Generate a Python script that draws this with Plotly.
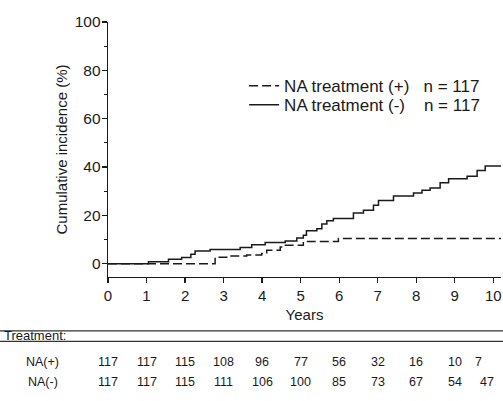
import plotly.graph_objects as go

# ---------------- data ----------------
years_pos = [0, 1.53, 2.78, 3.17, 3.6, 3.99, 4.12, 4.47, 4.55, 5.07, 5.98, 10.2]
inc_pos = [0, 0, 2.7, 3.2, 3.6, 4.2, 5.6, 6.9, 7.6, 9.2, 10.4, 10.4]

years_neg = [0, 1.05, 1.57, 1.91, 2.15, 2.26, 2.65, 3.43, 3.73, 4.08, 4.6, 4.9,
             5.07, 5.15, 5.42, 5.55, 5.68, 5.85, 6.37, 6.63, 6.89, 7.02, 7.41,
             7.93, 8.15, 8.36, 8.62, 8.84, 9.32, 9.58, 9.79, 10.2]
inc_neg = [0, 0.8, 1.8, 2.6, 3.9, 5.3, 5.9, 6.7, 7.8, 8.8, 9.4, 10.6,
           11.8, 13.6, 14.5, 16.4, 17.8, 18.7, 21.0, 22.1, 24.2, 26.2, 28.0,
           29.3, 30.4, 31.3, 33.5, 35.2, 36.2, 38.6, 40.4, 40.4]

name_pos = "NA treatment (+)"
name_neg = "NA treatment (-)"
n_pos = 117
n_neg = 117

risk_years = list(range(0, 11))
risk_pos = [117, 117, 115, 108, 96, 77, 56, 32, 16, 10, 7]
risk_neg = [117, 117, 115, 111, 106, 100, 85, 73, 67, 54, 47]
row_labels = ["NA(+)", "NA(-)"]
table_title = "Treatment:"

x_ticks = list(range(0, 11))
y_ticks = [0, 20, 40, 60, 80, 100]

# ---------------- layout geometry (pixels) ----------------
W, H = 503, 401
PL, PR = 108.0, 500.7   # plot left / right px
PT, PB = 21.7, 276.7    # plot top / bottom px
PW, PH = PR - PL, PB - PT

def px_x(p):
    return (p - PL) / PW

def px_y(p):
    return (PB - p) / PH

FONT = "Liberation Sans, Arial, Helvetica, sans-serif"
INK = "#1a1a1a"
NB = "\u00a0"

fig = go.Figure()
fig.add_trace(go.Scatter(
    x=years_pos, y=inc_pos, mode="lines", line_shape="hv",
    line=dict(color=INK, width=1.5, dash="9px,4px"),
    name=name_pos + NB * 3 + "n = " + str(n_pos), legend="legend"))
fig.add_trace(go.Scatter(
    x=years_neg, y=inc_neg, mode="lines", line_shape="hv",
    line=dict(color=INK, width=1.5),
    name=name_neg + NB * 4 + "n = " + str(n_neg), legend="legend2"))

shapes = []
for yp in (330.5, 341.0):
    shapes.append(dict(type="line", xref="paper", yref="paper",
                       x0=px_x(0), x1=px_x(W), y0=px_y(yp), y1=px_y(yp),
                       line=dict(color="#333", width=1.3)))

ann = []
ann.append(dict(text=table_title, xref="paper", yref="paper",
                x=px_x(2), y=px_y(335.5), xanchor="left", yanchor="middle",
                showarrow=False, font=dict(size=13, family=FONT, color=INK)))
last_shift = [-15, -6]
for r, (lab, vals, ypix) in enumerate(zip(row_labels, [risk_pos, risk_neg], [362, 382])):
    ann.append(dict(text=lab, xref="paper", yref="paper", x=px_x(43), y=px_y(ypix),
                    xanchor="center", yanchor="middle", showarrow=False,
                    font=dict(size=12.5, family=FONT, color=INK)))
    for i, (yr, v) in enumerate(zip(risk_years, vals)):
        ann.append(dict(text=str(v), xref="x", yref="paper", x=yr, y=px_y(ypix),
                        xanchor="center", yanchor="middle", showarrow=False,
                        xshift=last_shift[r] if i == len(vals) - 1 else 0,
                        font=dict(size=12.5, family=FONT, color=INK)))

leg_common = dict(xanchor="left", yanchor="top", bgcolor="rgba(0,0,0,0)",
                  font=dict(size=17, family=FONT, color=INK), itemwidth=30)

fig.update_layout(
    width=W, height=H, autosize=False,
    margin=dict(l=PL, r=W - PR, t=PT, b=H - PB, pad=0),
    paper_bgcolor="white", plot_bgcolor="white",
    font=dict(family=FONT, color=INK),
    showlegend=True,
    legend=dict(x=px_x(244), y=px_y(68), **leg_common),
    legend2=dict(x=px_x(244), y=px_y(87), **leg_common),
    xaxis=dict(range=[0, 10.2], tickvals=x_ticks, showgrid=False, zeroline=False,
               showline=True, linecolor=INK, linewidth=1.3,
               ticks="outside", ticklen=5, tickcolor=INK, tickwidth=1.3,
               tickfont=dict(size=15, family=FONT, color=INK),
               title=dict(text="Years", font=dict(size=15, family=FONT, color=INK), standoff=6),
               automargin=False),
    yaxis=dict(range=[-5.5, 100], tickvals=y_ticks, showgrid=False, zeroline=False,
               showline=True, linecolor=INK, linewidth=1.3,
               ticks="outside", ticklen=5, tickcolor=INK, tickwidth=1.3,
               ticklabelstandoff=-2,
               minor=dict(tickvals=[10, 30, 50, 70, 90], ticks="outside", ticklen=3,
                          tickcolor=INK, tickwidth=1),
               tickfont=dict(size=15.5, family=FONT, color=INK),
               title=dict(text="Cumulative incidence (%)",
                          font=dict(size=15, family=FONT, color=INK), standoff=3),
               automargin=False),
    shapes=shapes,
    annotations=ann,
)

fig.write_html("out.html",
               config={"displayModeBar": False, "staticPlot": True},
               post_script="document.body.style.margin='0px';"
                           "document.body.style.overflow='hidden';")
